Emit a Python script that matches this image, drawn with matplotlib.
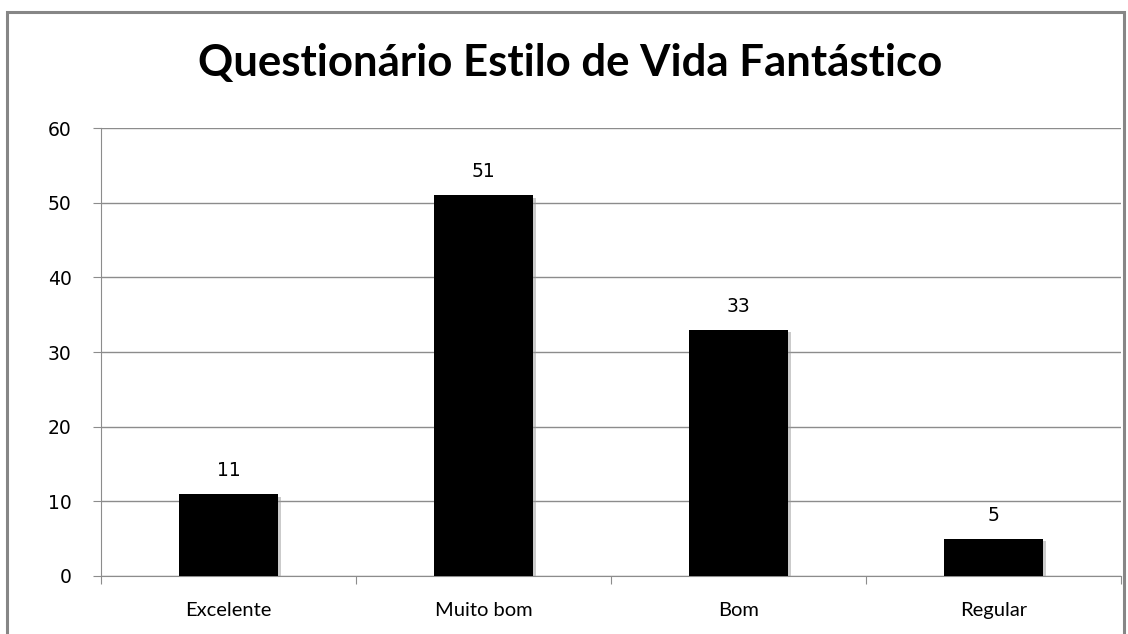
import matplotlib.pyplot as plt
import matplotlib.patheffects as pe
from matplotlib.patches import Rectangle

categorias = ["Excelente", "Muito bom", "Bom", "Regular"]
valores = [11, 51, 33, 5]
titulo = "Questionário Estilo de Vida Fantástico"

fig = plt.figure(figsize=(11.28, 6.34), dpi=100)
ax = fig.add_axes([0.0895, 0.0915, 0.9043, 0.7065])

x = range(len(categorias))
barras = ax.bar(x, valores, width=0.39, color="black", zorder=3,
                path_effects=[pe.SimplePatchShadow(offset=(2, -2), shadow_rgbFace="#999999", alpha=0.5),
                              pe.Normal()])

for xi, v in zip(x, valores):
    ax.annotate(str(v), (xi, v), xytext=(0, 10), textcoords="offset points",
                ha="center", va="bottom", fontsize=13.5, family="DejaVu Sans")

ax.set_xlim(-0.5, len(categorias) - 0.5)
ax.set_ylim(0, 60)
ax.set_yticks(range(0, 61, 10))
ax.yaxis.grid(True, color="#8c8c8c", linewidth=1, zorder=0)
ax.set_axisbelow(True)

ax.set_xticks([i - 0.5 for i in range(len(categorias) + 1)])
ax.set_xticklabels([])
ax.set_xticks(list(x), minor=True)
ax.set_xticklabels(categorias, minor=True, fontsize=14.5, family="Lato")
ax.tick_params(axis="x", which="minor", length=0, pad=19)
ax.tick_params(axis="x", which="major", length=6, color="#8c8c8c", direction="out")
ax.tick_params(axis="y", length=6, color="#8c8c8c", pad=15, labelsize=13.5)

for s in ["top", "right"]:
    ax.spines[s].set_visible(False)
for s in ["left", "bottom"]:
    ax.spines[s].set_color("#8c8c8c")

fig.text(0.505, 0.9, titulo, ha="center", va="center", fontsize=31.5,
         fontweight="bold", family="Lato")

fig.patches.append(Rectangle((7 / 1128, -0.05), 1117 / 1128, (634 - 11.5) / 634 + 0.05,
                             transform=fig.transFigure, fill=False,
                             edgecolor="#868686", linewidth=2.2))

fig.savefig("out.png", dpi=100)
